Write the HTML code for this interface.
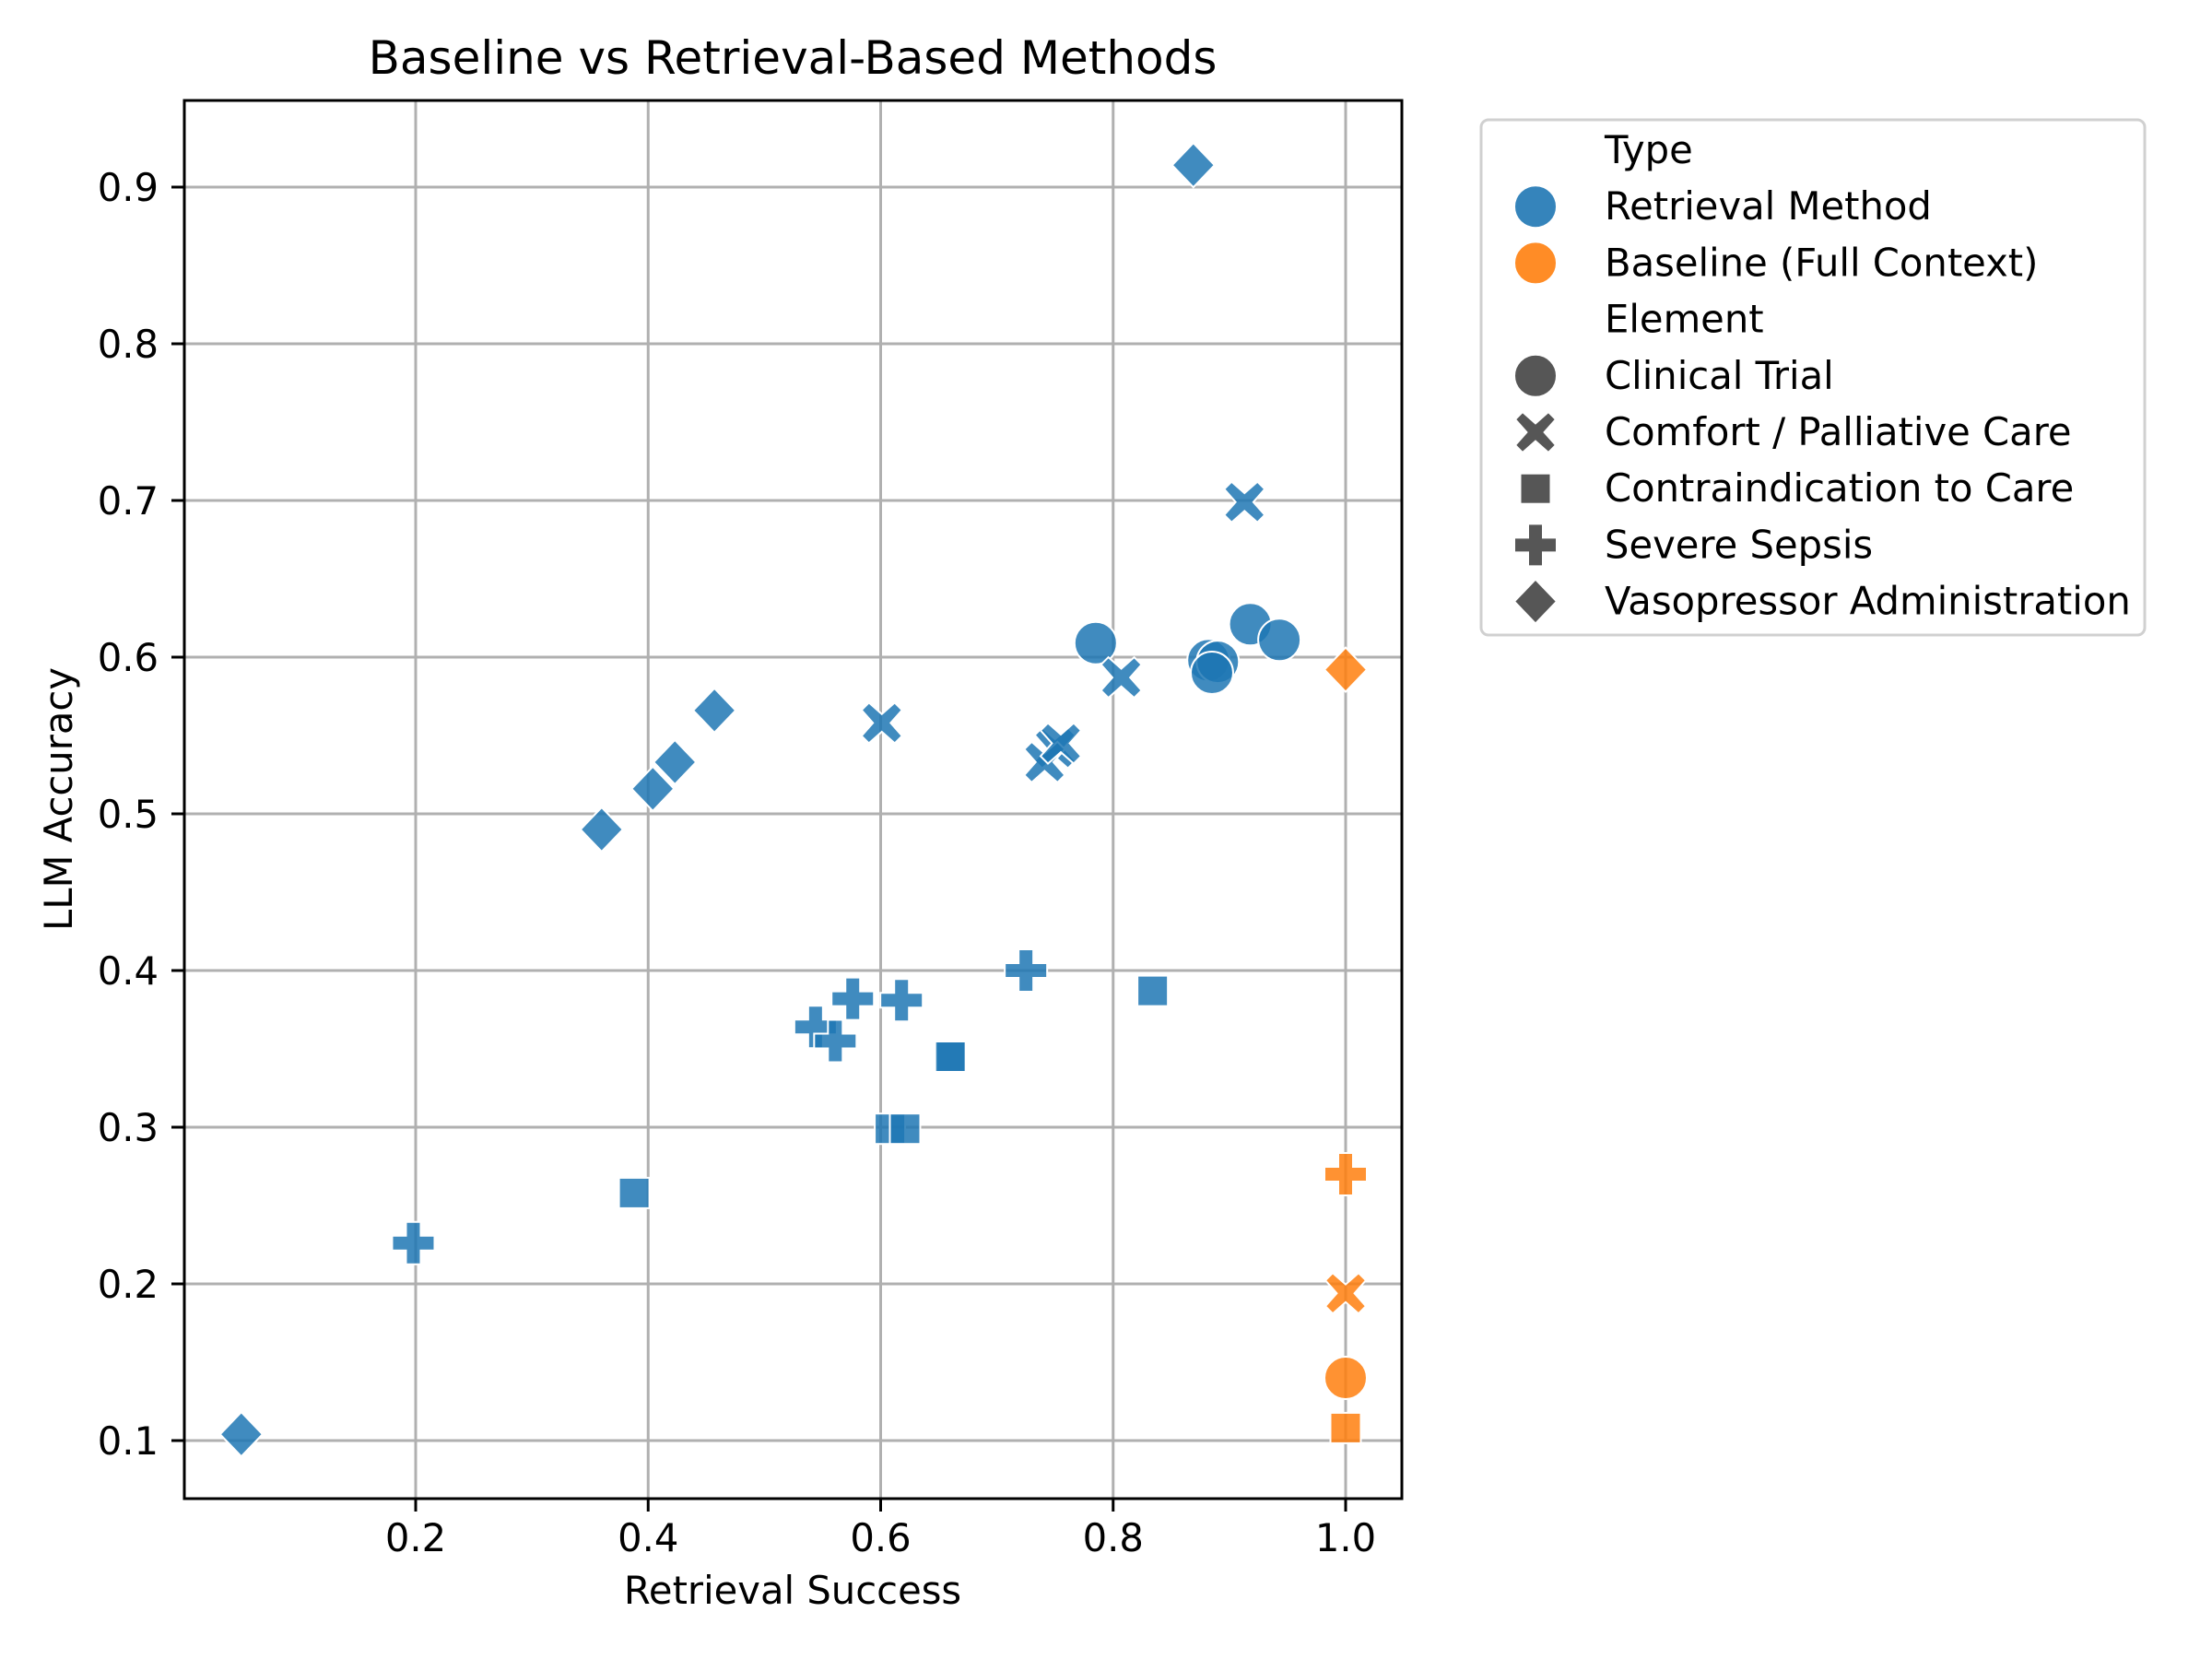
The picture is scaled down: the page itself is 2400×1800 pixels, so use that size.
<!DOCTYPE html>
<html><head><meta charset="utf-8"><style>
html,body{margin:0;padding:0;background:#fff;}
svg{display:block;font-family:"DejaVu Sans","Liberation Sans",sans-serif;}
</style></head><body>
<svg id="chart" width="2400" height="1800" viewBox="0 0 2400 1800" xmlns="http://www.w3.org/2000/svg">
<rect width="2400" height="1800" fill="#fff"/>
<g id="grid"></g>
<g id="marks"></g>
<rect x="200" y="109" width="1321" height="1517" fill="none" stroke="#000" stroke-width="3"/>
<g id="ticks"></g>
<text x="860" y="80" font-size="50" text-anchor="middle">Baseline vs Retrieval-Based Methods</text>
<text x="860" y="1740" font-size="41.7" text-anchor="middle">Retrieval Success</text>
<text x="0" y="0" font-size="41.7" text-anchor="middle" transform="translate(78,867) rotate(-90)">LLM Accuracy</text>
<g id="legend">
<rect x="1607" y="130" width="720" height="559" rx="8" fill="#fff" stroke="#d0d0d0" stroke-width="3"/>
</g>
</svg>
<script>
const xTicks = [0.2, 0.4, 0.6, 0.8, 1.0];
const yTicks = [0.1, 0.2, 0.3, 0.4, 0.5, 0.6, 0.7, 0.8, 0.9];
const xTickLabels = ["0.2", "0.4", "0.6", "0.8", "1.0"];
const yTickLabels = ["0.1", "0.2", "0.3", "0.4", "0.5", "0.6", "0.7", "0.8", "0.9"];
const ptType = ["r","r","r","r","r","r", "r","r","r","r","r","r", "r","r","r","r","r","r", "r","r","r","r","r","r", "r","r","r","r","r","r", "b","b","b","b","b"];
const ptElement = ["circle","circle","circle","circle","circle","circle",
 "x","x","x","x","x","x",
 "square","square","square","square","square","square",
 "plus","plus","plus","plus","plus","plus",
 "diamond","diamond","diamond","diamond","diamond","diamond",
 "diamond","plus","x","circle","square"];
const retrievalSuccess = [0.785,0.918,0.943,0.882,0.890,0.885,
 0.913,0.601,0.807,0.750,0.741,0.755,
 0.834,0.661,0.660,0.388,0.608,0.621,
 0.725,0.618,0.576,0.544,0.561,0.198,
 0.869,0.457,0.423,0.404,0.360,0.050,
 1.0,1.0,1.0,1.0,1.0];
const llmAccuracy = [0.609,0.621,0.611,0.598,0.597,0.590,
 0.699,0.558,0.587,0.542,0.533,0.545,
 0.387,0.345,0.345,0.258,0.299,0.299,
 0.400,0.381,0.382,0.364,0.355,0.226,
 0.914,0.566,0.533,0.516,0.490,0.104,
 0.592,0.270,0.194,0.140,0.108];
const NS="http://www.w3.org/2000/svg";
function xs(v){return 198.75 + (v)*1261.25;}
function ys(v){return 1563 - (v-0.1)*1700;}
const colors={r:"#1f77b4",b:"#ff7f0e"};
function mk(tag,attrs,parent){const e=document.createElementNS(NS,tag);for(const k in attrs)e.setAttribute(k,attrs[k]);parent.appendChild(e);return e;}
function shape(kind,cx,cy,fill,parent,op){
  let e;
  const common={fill:fill,"fill-opacity":op,stroke:"#fff","stroke-width":2};
  if(kind==="circle"){e=mk("circle",Object.assign({cx:cx,cy:cy,r:23},common),parent);}
  else if(kind==="square"){e=mk("rect",Object.assign({x:cx-16.5,y:cy-16.5,width:33,height:33},common),parent);}
  else if(kind==="diamond"){e=mk("polygon",Object.assign({points:`${cx},${cy-24} ${cx+23},${cy} ${cx},${cy+24} ${cx-23},${cy}`},common),parent);}
  else if(kind==="plus"){const a=23,t=8;e=mk("polygon",Object.assign({points:`${cx-t},${cy-a} ${cx+t},${cy-a} ${cx+t},${cy-t} ${cx+a},${cy-t} ${cx+a},${cy+t} ${cx+t},${cy+t} ${cx+t},${cy+a} ${cx-t},${cy+a} ${cx-t},${cy+t} ${cx-a},${cy+t} ${cx-a},${cy-t} ${cx-t},${cy-t}`},common),parent);}
  else {const a=22,t=8;const p=[[-a+t,-a],[0,-t*1.2],[a-t,-a],[a,-a+t],[t*1.2,0],[a,a-t],[a-t,a],[0,t*1.2],[-a+t,a],[-a,a-t],[-t*1.2,0],[-a,-a+t]];
    e=mk("polygon",Object.assign({points:p.map(q=>(cx+q[0])+","+(cy+q[1])).join(" ")},common),parent);}
  return e;
}
const grid=document.getElementById("grid"),ticks=document.getElementById("ticks"),marks=document.getElementById("marks"),legend=document.getElementById("legend");
xTicks.forEach((v,i)=>{
  const g=mk("line",{x1:xs(v),x2:xs(v),y1:109,y2:1626,stroke:"#b0b0b0","stroke-width":3},grid);
  
  
  const t=mk("line",{x1:xs(v),x2:xs(v),y1:1626,y2:1640,stroke:"#000","stroke-width":3},ticks);
  
  
  const l=mk("text",{x:xs(v),y:1683,"font-size":41.7,"text-anchor":"middle"},ticks);
  l.textContent=xTickLabels[i];
  
  
});
yTicks.forEach((v,i)=>{
  const g=mk("line",{x1:200,x2:1521,y1:ys(v),y2:ys(v),stroke:"#b0b0b0","stroke-width":3},grid);
  
  
  const t=mk("line",{x1:186,x2:200,y1:ys(v),y2:ys(v),stroke:"#000","stroke-width":3},ticks);
  
  
  const l=mk("text",{x:172,y:ys(v)+15,"font-size":41.7,"text-anchor":"end"},ticks);
  l.textContent=yTickLabels[i];
  
  
});
retrievalSuccess.forEach((v,i)=>{
  const e=shape(ptElement[i],xs(v),ys(llmAccuracy[i]),colors[ptType[i]],marks,0.85);
  
  
});
const legendLabels=["Type","Retrieval Method","Baseline (Full Context)","Element","Clinical Trial","Comfort / Palliative Care","Contraindication to Care","Severe Sepsis","Vasopressor Administration"];
const legendShapes=[null,"circle","circle",null,"circle","x","square","plus","diamond"];
const legendColors=[null,"#1f77b4","#ff7f0e",null,"#444","#444","#444","#444","#444"];
legendLabels.forEach((lab,i)=>{
  const y=163+i*61.2;
  if(legendShapes[i]){const s=shape(legendShapes[i],1666,y,legendColors[i],legend,0.9);
    
    }
  const t=mk("text",{x:1741,y:y+14,"font-size":41.7},legend);
  t.textContent=lab;
  
  
});
</script>
</body></html>
